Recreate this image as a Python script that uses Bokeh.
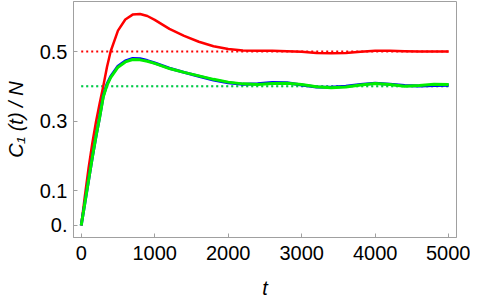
from bokeh.plotting import figure
from bokeh.models import FixedTicker, Range1d
from bokeh.embed import file_html
from bokeh.resources import INLINE

t = [0, 50, 100, 150, 200, 250, 300, 350, 400, 500, 600, 700, 800, 900, 1000,
     1200, 1400, 1600, 1800, 2000, 2200, 2400, 2600, 2800, 3000,
     3200, 3400, 3600, 3800, 4000, 4200, 4400, 4600, 4800, 5000]
red = [0, 0.085, 0.165, 0.235, 0.297, 0.35, 0.4, 0.455, 0.5, 0.56, 0.592, 0.606, 0.608, 0.602, 0.591,
       0.565, 0.545, 0.528, 0.515, 0.507, 0.503, 0.502, 0.502, 0.501, 0.499,
       0.496, 0.495, 0.496, 0.499, 0.502, 0.502, 0.501, 0.500, 0.500, 0.500]
blue = [0, 0.065, 0.13, 0.195, 0.255, 0.311, 0.372, 0.406, 0.428, 0.458, 0.473, 0.480, 0.479, 0.474, 0.467,
        0.452, 0.44, 0.429, 0.418, 0.41, 0.406, 0.407, 0.411, 0.41, 0.404,
        0.398, 0.397, 0.4, 0.405, 0.409, 0.406, 0.402, 0.401, 0.402, 0.403]
green = [0, 0.065, 0.13, 0.195, 0.255, 0.31, 0.37, 0.403, 0.425, 0.455, 0.47, 0.477, 0.476, 0.472, 0.466,
         0.451, 0.44, 0.43, 0.42, 0.412, 0.407, 0.405, 0.408, 0.409, 0.405,
         0.399, 0.396, 0.398, 0.404, 0.408, 0.405, 0.400, 0.402, 0.406, 0.405]
t_span = [0, 5000]
red_level = [0.5, 0.5]
green_level = [0.4, 0.4]

x_ticks = [0, 1000, 2000, 3000, 4000, 5000]
y_ticks = [0, 0.1, 0.3, 0.5]
y_tick_labels = {0: "0.", 0.1: "0.1", 0.3: "0.3", 0.5: "0.5"}

p = figure(output_backend="svg", toolbar_location=None,
           frame_width=383, frame_height=236,
           min_border_left=73, min_border_right=14, min_border_top=1, min_border_bottom=64,
           x_range=Range1d(-105, 5106), y_range=Range1d(-0.0345, 0.6437))
p.grid.visible = False
p.outline_line_color = "#a0a0a0"
p.outline_line_width = 1
p.background_fill_color = "white"
p.border_fill_color = "white"

for ax in (p.xaxis[0], p.yaxis[0]):
    ax.axis_line_color = "#a0a0a0"
    ax.major_tick_line_color = "#a0a0a0"
    ax.major_tick_in = 4
    ax.major_tick_out = 0
    ax.minor_tick_line_color = None
    ax.major_label_text_font = "Liberation Sans"
    ax.major_label_text_font_size = "20px"
    ax.major_label_text_color = "black"
    ax.axis_label_text_font = "Liberation Sans"
    ax.axis_label_text_font_style = "italic"
    ax.axis_label_text_font_size = "20px"
    ax.axis_label_text_color = "black"

p.xaxis.ticker = FixedTicker(ticks=x_ticks)
p.yaxis.ticker = FixedTicker(ticks=y_ticks)
p.yaxis.major_label_overrides = y_tick_labels
p.xaxis.major_label_standoff = 8
p.yaxis.major_label_standoff = 6
p.xaxis.axis_label = "t"
p.yaxis.axis_label = "C\u2081 (t) / N"
p.xaxis.axis_label_standoff = 14
p.yaxis.axis_label_standoff = 10

p.line(t_span, red_level, line_color="red", line_width=2, line_dash="2 3")
p.line(t_span, green_level, line_color="blue", line_width=2, line_dash="2 3", line_alpha=0.4)
p.line(t_span, green_level, line_color="#00dd33", line_width=2, line_dash="2 3")

p.line(t, red, line_color="red", line_width=2.5)
p.line(t, blue, line_color="blue", line_width=3)
p.line(t, green, line_color="#00ee00", line_width=3)

open("out.html", "w").write(file_html(p, INLINE))
